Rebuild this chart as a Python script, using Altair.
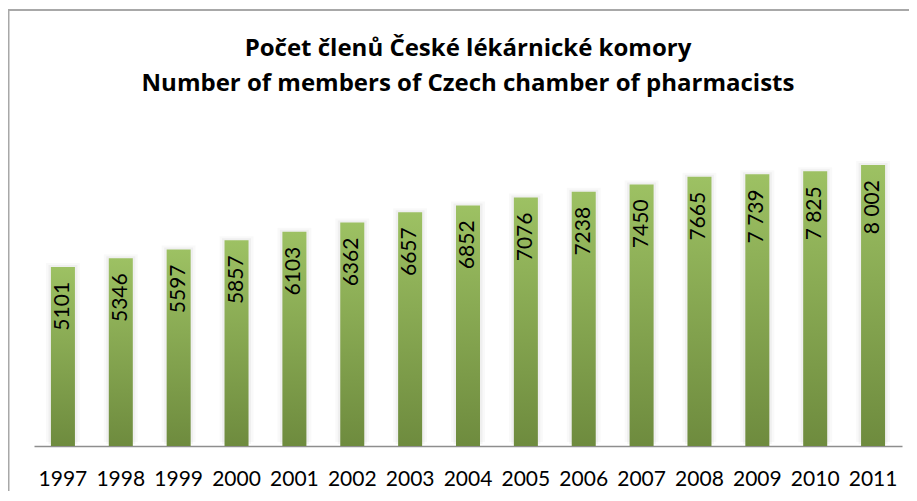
import altair as alt
import pandas as pd

years = ["1997", "1998", "1999", "2000", "2001", "2002", "2003", "2004",
         "2005", "2006", "2007", "2008", "2009", "2010", "2011"]
members = [5101, 5346, 5597, 5857, 6103, 6362, 6657, 6852,
           7076, 7238, 7450, 7665, 7739, 7825, 8002]
value_labels = ["5101", "5346", "5597", "5857", "6103", "6362", "6657", "6852",
                "7076", "7238", "7450", "7665", "7 739", "7 825", "8 002"]
title_lines = ["Počet členů České lékárnické komory",
               "Number of members of Czech chamber of pharmacists"]

df = pd.DataFrame({"year": years, "members": members, "label": value_labels})

FONT = "Lato"
TITLE_FONT = "Open Sans"

x_enc = alt.X("year:N", sort=years, title=None,
              scale=alt.Scale(paddingInner=0.585, paddingOuter=0.2925),
              axis=alt.Axis(labelAngle=0, labelFont=FONT, labelFontSize=21,
                            labelColor="#000000", labelPadding=22,
                            ticks=False, tickSize=0, grid=False,
                            domainColor="#8E8E8E", domainWidth=1.5))
y_enc = alt.Y("members:Q", title=None, axis=None,
              scale=alt.Scale(domain=[0, 9000], nice=False, zero=True))

base = alt.Chart(df).encode(x=x_enc, y=y_enc)

frame = alt.Chart(alt.Data(values=[{}])).mark_rect(
    fill=None, stroke="#A8A8A8", strokeWidth=2
).encode(x=alt.value(-25.5), x2=alt.value(2000),
         y=alt.value(-120), y2=alt.value(1000))

halo1 = base.mark_bar(size=34, yOffset=-4, y2Offset=5, color="#000000", opacity=0.025)
halo2 = base.mark_bar(size=29, yOffset=-2, y2Offset=3, color="#000000", opacity=0.04)

bars = base.mark_bar(
    color=alt.Gradient(
        gradient="linear",
        stops=[alt.GradientStop(color="#9DC163", offset=0),
               alt.GradientStop(color="#6E8B3E", offset=1)],
        x1=0, x2=0, y1=0, y2=1,
    )
)

labels = base.mark_text(angle=270, align="right", baseline="middle", dx=-15,
                        font=FONT, fontSize=21, color="#000000").encode(text="label:N")

chart = alt.layer(frame, halo1, halo2, bars, labels).properties(
    width=868, height=316,
    padding={"left": 26, "top": 122, "right": 7, "bottom": 45},
    autosize=alt.AutoSizeParams(type="none"),
    title=alt.TitleParams(text=title_lines, anchor="middle", font=TITLE_FONT,
                          fontSize=24, fontWeight="bold", color="#000000",
                          lineHeight=35, offset=-87),
).configure_view(stroke=None)

chart.save("out.html", embed_options={"renderer": "svg", "actions": False})
